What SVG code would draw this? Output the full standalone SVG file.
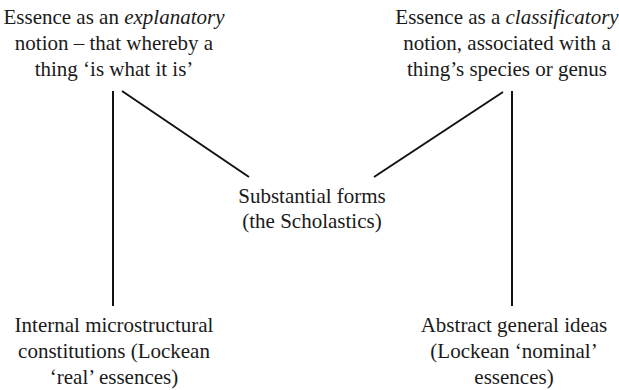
<svg xmlns="http://www.w3.org/2000/svg" width="619" height="390" viewBox="0 0 619 390">
<style>
text{font-size:21px;fill:#1a1a1a;text-anchor:middle}
.c line{stroke:#111;stroke-width:2;stroke-linecap:butt}
</style>
<rect width="619" height="390" fill="#fff"/>
<g font-family="Liberation Serif, Times New Roman, DejaVu Serif, serif">
<g id="explanatory">
<text x="114" y="24">Essence as an <tspan font-style="italic">explanatory</tspan></text>
<text x="114" y="50">notion – that whereby a</text>
<text x="114" y="76">thing ‘is what it is’</text>
</g>
<g id="classificatory">
<text x="507" y="24">Essence as a <tspan font-style="italic">classificatory</tspan></text>
<text x="507" y="50">notion, associated with a</text>
<text x="507" y="76">thing’s species or genus</text>
</g>
<g id="substantial">
<text x="312" y="203">Substantial forms</text>
<text x="312" y="228">(the Scholastics)</text>
</g>
<g id="internal">
<text x="114" y="332">Internal microstructural</text>
<text x="114" y="358">constitutions (Lockean</text>
<text x="114" y="384">‘real’ essences)</text>
</g>
<g id="abstract">
<text x="514" y="332">Abstract general ideas</text>
<text x="514" y="358">(Lockean ‘nominal’</text>
<text x="514" y="384">essences)</text>
</g>
</g>
<g class="c" id="connectors">
<line x1="113" y1="91" x2="113" y2="306"/>
<line x1="122" y1="91" x2="249" y2="177"/>
<line x1="503" y1="92" x2="374" y2="177"/>
<line x1="512" y1="91" x2="512" y2="306"/>
</g>
</svg>
